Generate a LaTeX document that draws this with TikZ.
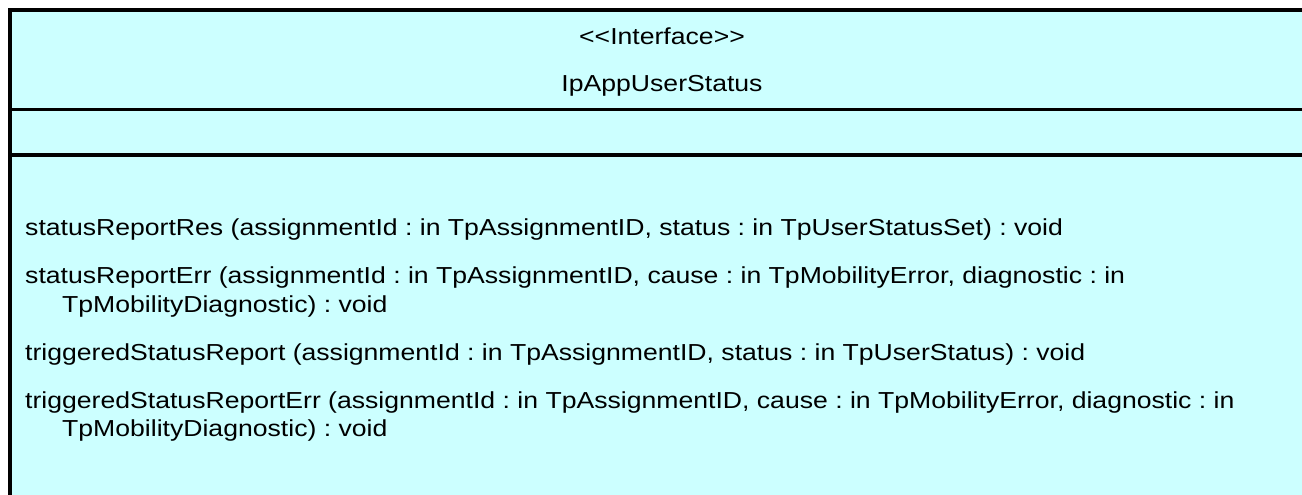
\documentclass[tikz,border=0pt]{standalone}
\usepackage{fontspec}
\setmainfont{Liberation Sans}
\definecolor{boxfill}{HTML}{CCFFFF}
\frenchspacing
\tikzset{
  optext/.style={anchor=base west, inner sep=0pt, yscale=0.87, font=\fontsize{26.6}{30}\selectfont},
  hdtext/.style={anchor=base, inner sep=0pt, yscale=0.87, font=\fontsize{26.6}{30}\selectfont},
}
\begin{document}
\begin{tikzpicture}[x=1pt,y=-1pt]
\useasboundingbox (0,0) rectangle (1302,495);
\clip (0,0) rectangle (1302,495);
\fill[boxfill] (10,10) rectangle (1320,520);
\draw[line width=4pt] (10,520) -- (10,10) -- (1320,10);
\draw[line width=3.5pt] (10,109.5) -- (1320,109.5);
\draw[line width=4pt] (10,155) -- (1320,155);
\node[hdtext] (stereo) at (662,45) {<\kern0pt<Interface>\kern0pt>};
\node[hdtext] (name) at (662,92) {IpAppUserStatus};
\node[optext] (op1) at (25,235) {statusReportRes (assignmentId : in TpAssignmentID, status : in TpUserStatusSet) : void};
\node[optext] (op2) at (25,283) {statusReportErr (assignmentId : in TpAssignmentID, cause : in TpMobilityError, diagnostic : in};
\node[optext] (op2b) at (62,312) {TpMobilityDiagnostic) : void};
\node[optext] (op3) at (25,360) {triggeredStatusReport (assignmentId : in TpAssignmentID, status : in TpUserStatus) : void};
\node[optext] (op4) at (25,408) {triggeredStatusReportErr (assignmentId : in TpAssignmentID, cause : in TpMobilityError, diagnostic : in};
\node[optext] (op4b) at (62,436) {TpMobilityDiagnostic) : void};
\end{tikzpicture}
\end{document}
